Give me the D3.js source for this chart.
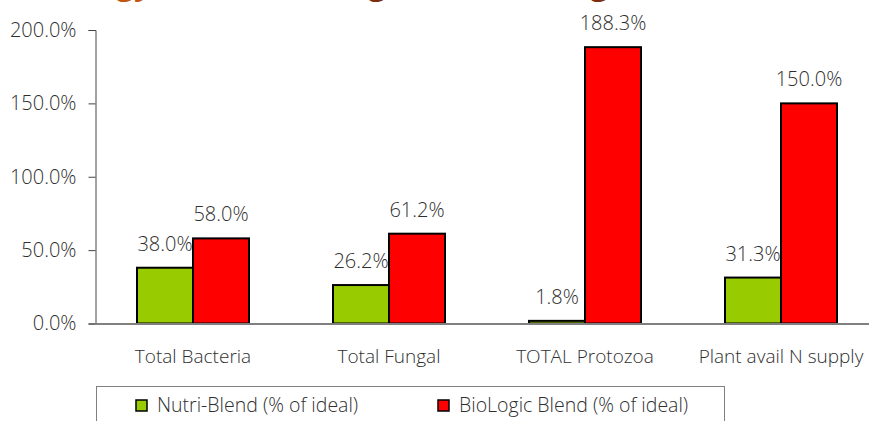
<!DOCTYPE html>
<html>
  <head>
    <meta charset="utf-8" />
    <title>Nutri-Blend vs BioLogic Blend</title>
    <script src="https://d3js.org/d3.v7.min.js"></script>
    <style>
      body {
        margin: 0;
        background: #fff;
      }
      text {
        font-family: "Open Sans", Lato, sans-serif;
        font-weight: 300;
        fill: #2f2f2f;
      }
    </style>
  </head>
  <body>
    <svg id="viz"></svg>

    <script>
      var categories = ["Total Bacteria", "Total Fungal", "TOTAL Protozoa", "Plant avail N supply"];
      var seriesNames = ["Nutri-Blend (% of ideal)", "BioLogic Blend (% of ideal)"];
      var nutriBlend = [38.0, 26.2, 1.8, 31.3];
      var bioLogic = [58.0, 61.2, 188.3, 150.0];
      var yTicks = [0, 50, 100, 150, 200];
      var colors = ["#99cc00", "#ff0000"];

      var width = 869;
      var height = 421;

      var svg = d3.select("#viz")
        .attr("width", width)
        .attr("height", height);

      // title sits above the visible area, only descenders show
      var titleBits = [
        {t: "gy", x: 116, c: "#c0560f"},
        {t: "g", x: 368, c: "#7a2e0e"},
        {t: "g", x: 590, c: "#7a2e0e"}
      ];
      svg.selectAll(".title").data(titleBits).enter().append("text")
        .attr("class", "title")
        .attr("x", function(d) { return d.x; })
        .attr("y", -6)
        .attr("font-size", 32)
        .style("font-weight", "bold")
        .style("fill", function(d) { return d.c; })
        .text(function(d) { return d.t; });

      var x0 = d3.scaleBand()
        .domain(categories)
        .range([95, 95 + 196 * 4]);

      var x1 = d3.scaleBand()
        .domain(seriesNames)
        .range([0, 112]);

      var y = d3.scaleLinear()
        .domain([0, 200])
        .range([323.5, 30]);

      // y axis
      var yAxis = d3.axisLeft(y)
        .tickValues(yTicks)
        .tickSize(7)
        .tickPadding(12)
        .tickFormat(function(d) { return d.toFixed(1) + "%"; });

      var gy = svg.append("g")
        .attr("transform", "translate(95.5,0)")
        .call(yAxis);
      gy.attr("font-family", null).attr("font-size", null);
      gy.select(".domain").attr("stroke", "#444");
      gy.selectAll(".tick line").attr("stroke", "#444");
      gy.selectAll(".tick text")
        .attr("font-size", 20)
        .style("fill", "#2f2f2f");

      var groups = svg.selectAll(".cat")
        .data(categories)
        .enter().append("g")
        .attr("class", "cat")
        .attr("transform", function(d) {
          return "translate(" + (x0(d) + (x0.bandwidth() - 112) / 2) + ",0)";
        });

      groups.selectAll("rect")
        .data(function(d, i) {
          return [
            {s: seriesNames[0], v: nutriBlend[i], c: colors[0]},
            {s: seriesNames[1], v: bioLogic[i], c: colors[1]}
          ];
        })
        .enter().append("rect")
        .attr("x", function(d) { return x1(d.s); })
        .attr("y", function(d) { return y(d.v); })
        .attr("width", x1.bandwidth())
        .attr("height", function(d) { return y(0) - y(d.v); })
        .attr("fill", function(d) { return d.c; })
        .attr("stroke", "#000")
        .attr("stroke-width", 2);

      groups.selectAll(".lbl")
        .data(function(d, i) {
          return [
            {s: seriesNames[0], v: nutriBlend[i]},
            {s: seriesNames[1], v: bioLogic[i]}
          ];
        })
        .enter().append("text")
        .attr("class", "lbl")
        .attr("x", function(d) { return x1(d.s) + x1.bandwidth() / 2; })
        .attr("y", function(d) { return y(d.v) - 17; })
        .attr("text-anchor", "middle")
        .attr("font-size", 20)
        .text(function(d) { return d.v.toFixed(1) + "%"; });

      // x axis
      svg.append("line")
        .attr("x1", 95)
        .attr("x2", width)
        .attr("y1", 324)
        .attr("y2", 324)
        .attr("stroke", "#808080")
        .attr("stroke-width", 2);

      svg.selectAll(".xlbl")
        .data(categories)
        .enter().append("text")
        .attr("class", "xlbl")
        .attr("x", function(d) { return x0(d) + x0.bandwidth() / 2; })
        .attr("y", 363)
        .attr("text-anchor", "middle")
        .attr("font-size", 19)
        .text(function(d) { return d; });

      // legend
      svg.append("rect")
        .attr("x", 96.5)
        .attr("y", 386.5)
        .attr("width", 628)
        .attr("height", 60)
        .attr("fill", "none")
        .attr("stroke", "#808080")
        .attr("stroke-width", 1);

      var legendX = [136, 438];
      var legend = svg.selectAll(".leg")
        .data(seriesNames)
        .enter().append("g")
        .attr("class", "leg")
        .attr("transform", function(d, i) { return "translate(" + legendX[i] + ",400)"; });

      legend.append("rect")
        .attr("width", 11)
        .attr("height", 11)
        .attr("fill", function(d, i) { return colors[i]; })
        .attr("stroke", "#000")
        .attr("stroke-width", 1.5);

      legend.append("text")
        .attr("x", 21)
        .attr("y", 12)
        .attr("font-size", 19.5)
        .text(function(d) { return d; });
    </script>
  </body>
</html>
